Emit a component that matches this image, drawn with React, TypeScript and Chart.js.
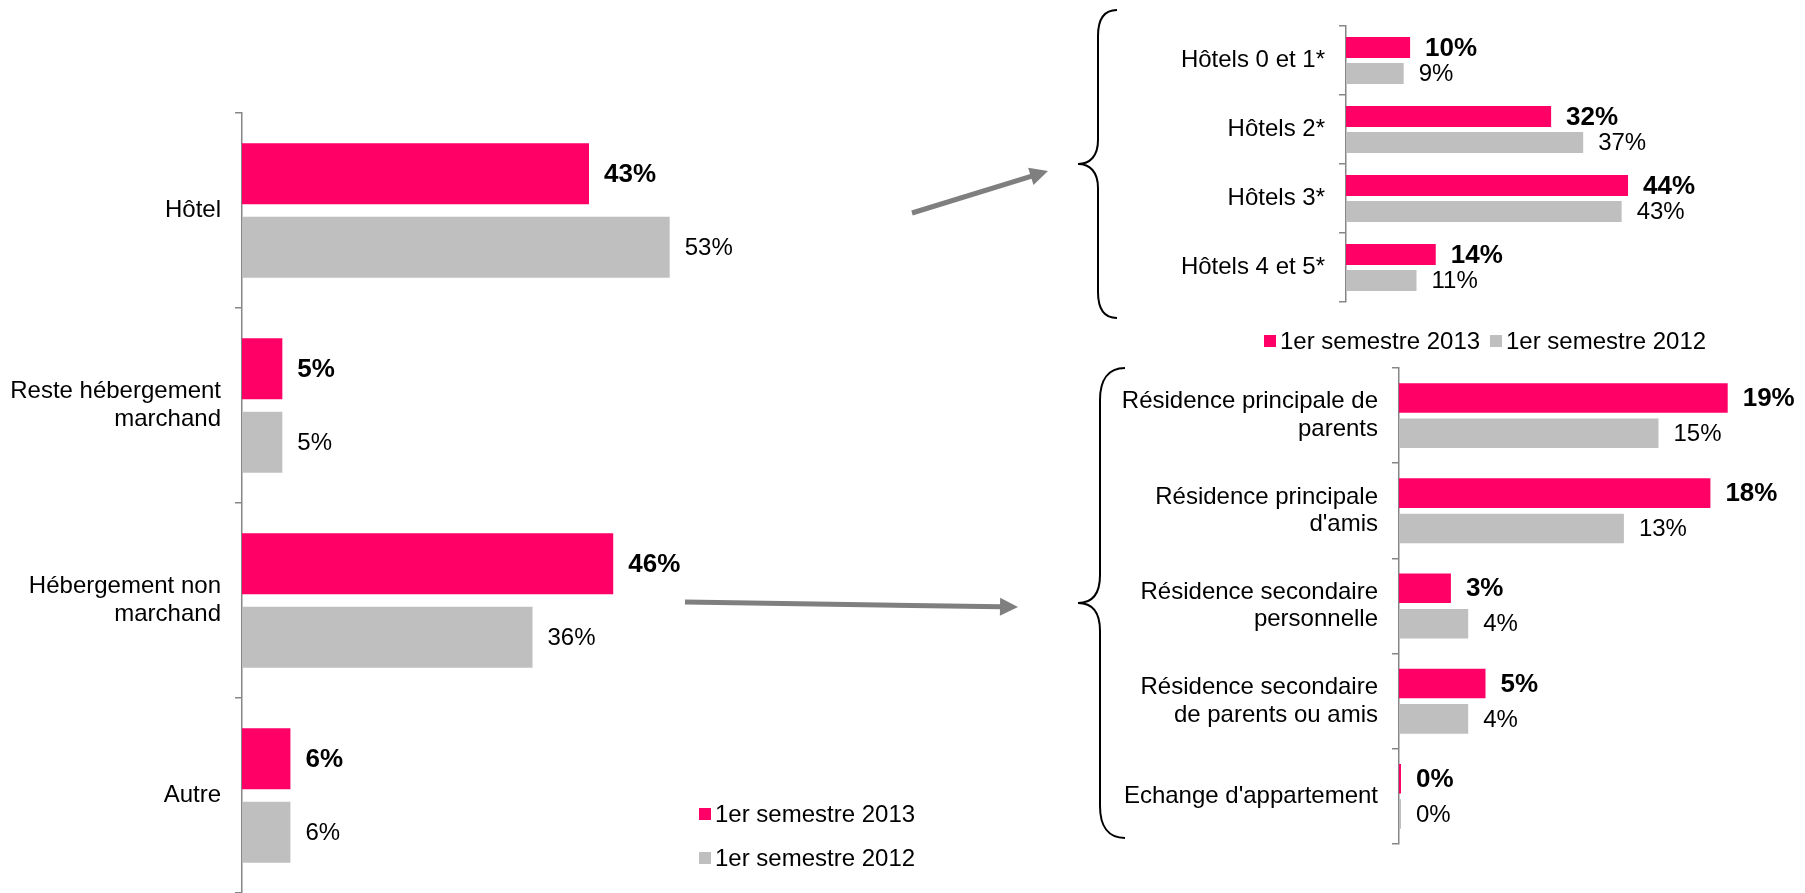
import React, { useEffect, useRef } from "react";
import { Chart, registerables } from "chart.js";

Chart.register(...registerables);

// ---------- DATA ----------
const seriesLabels = ["1er semestre 2013", "1er semestre 2012"];

const mainCategories: (string | string[])[] = [
  "Hôtel",
  ["Reste hébergement", "marchand"],
  ["Hébergement non", "marchand"],
  "Autre",
];
const main2013 = [43, 5, 46, 6];
const main2012 = [53, 5, 36, 6];

const hotelCategories = ["Hôtels 0 et 1*", "Hôtels 2*", "Hôtels 3*", "Hôtels 4 et 5*"];
const hotel2013 = [10, 32, 44, 14];
const hotel2012 = [9, 37, 43, 11];

const nonMarchandCategories: (string | string[])[] = [
  ["Résidence principale de", "parents"],
  ["Résidence principale", "d'amis"],
  ["Résidence secondaire", "personnelle"],
  ["Résidence secondaire", "de parents ou amis"],
  "Echange d'appartement",
];
const nonMarchand2013 = [19, 18, 3, 5, 0];
const nonMarchand2012 = [15, 13, 4, 4, 0];

// ---------- STYLE ----------
const PINK = "#FF0066";
const GRAY = "#BFBFBF";
const AXIS = "#868686";
const FONT = "'Liberation Sans', Arial, Helvetica, sans-serif";

Chart.defaults.font.family = FONT;
Chart.defaults.color = "#000";

const valueLabels = {
  id: "valueLabels",
  afterDatasetsDraw(chart: any) {
    const ctx = chart.ctx;
    const opts = chart.options.plugins.valueLabels || {};
    chart.data.datasets.forEach((ds: any, di: number) => {
      const meta = chart.getDatasetMeta(di);
      meta.data.forEach((el: any, i: number) => {
        const v = ds.data[i];
        ctx.save();
        ctx.font = di === 0 ? `bold ${opts.boldSize || 26}px ${FONT}` : `${opts.size || 24}px ${FONT}`;
        ctx.fillStyle = "#000";
        ctx.textAlign = "left";
        ctx.textBaseline = "middle";
        ctx.fillText(`${v}%`, el.x + (opts.offset || 15), el.y + 1);
        ctx.restore();
      });
    });
  },
};

const manualLegend = {
  id: "manualLegend",
  afterDraw(chart: any) {
    const opts = chart.options.plugins.manualLegend;
    if (!opts || !opts.items) return;
    const ctx = chart.ctx;
    chart.data.datasets.forEach((ds: any, di: number) => {
      const p = opts.items[di];
      if (!p) return;
      ctx.save();
      ctx.fillStyle = ds.backgroundColor;
      ctx.fillRect(p.x, p.y - 6, 12, 12);
      ctx.fillStyle = "#000";
      ctx.font = `24px ${FONT}`;
      ctx.textAlign = "left";
      ctx.textBaseline = "middle";
      ctx.fillText(ds.label, p.x + 16, p.y + 1);
      ctx.restore();
    });
  },
};

type Cfg = {
  labels: (string | string[])[];
  d2013: number[];
  d2012: number[];
  width: number;
  height: number;
  axisWidth: number;
  pxPerUnit: number;
  max: number;
  padTop: number;
  padBottom: number;
  barPct: number;
  catPct: number;
  legend?: { x: number; y: number }[];
  minBar?: number;
};

function makeConfig(c: Cfg): any {
  const areaW = c.max * c.pxPerUnit;
  const padRight = c.width - c.axisWidth - areaW;
  return {
    type: "bar",
    data: {
      labels: c.labels,
      datasets: [
        {
          label: seriesLabels[0],
          data: c.d2013,
          backgroundColor: PINK,
          barPercentage: c.barPct,
          categoryPercentage: c.catPct,
          minBarLength: c.minBar || 0,
        },
        {
          label: seriesLabels[1],
          data: c.d2012,
          backgroundColor: GRAY,
          barPercentage: c.barPct,
          categoryPercentage: c.catPct,
          minBarLength: c.minBar || 0,
        },
      ],
    },
    options: {
      indexAxis: "y",
      responsive: false,
      animation: false,
      devicePixelRatio: 1,
      events: [],
      layout: { padding: { top: c.padTop, bottom: c.padBottom, left: 0, right: padRight } },
      plugins: {
        legend: { display: false },
        tooltip: { enabled: false },
        title: { display: false },
        valueLabels: {},
        manualLegend: c.legend ? { items: c.legend } : undefined,
      },
      scales: {
        x: { display: false, min: 0, max: c.max },
        y: {
          afterFit: (s: any) => {
            s.width = c.axisWidth;
            s.paddingTop = 0;
            s.paddingBottom = 0;
          },
          grid: {
            display: true,
            drawOnChartArea: false,
            drawTicks: true,
            tickLength: 7,
            color: AXIS,
            lineWidth: 1.5,
            offset: true,
          },
          border: { display: true, color: AXIS, width: 1.5 },
          ticks: {
            color: "#000",
            padding: 14,
            font: { size: 24, family: FONT, lineHeight: 1.15 },
          },
        },
      },
    },
    plugins: [valueLabels, manualLegend],
  };
}

function BarChart({ cfg, left, top }: { cfg: Cfg; left: number; top: number }) {
  const ref = useRef<HTMLCanvasElement>(null);
  useEffect(() => {
    if (!ref.current) return;
    const chart = new Chart(ref.current, makeConfig(cfg));
    return () => chart.destroy();
  }, []);
  return (
    <canvas
      ref={ref}
      width={cfg.width}
      height={cfg.height}
      style={{ position: "absolute", left, top, width: cfg.width, height: cfg.height }}
    />
  );
}

function arrowPath(x1: number, y1: number, x2: number, y2: number, head = 18, half = 9) {
  const dx = x2 - x1, dy = y2 - y1;
  const len = Math.hypot(dx, dy);
  const ux = dx / len, uy = dy / len;
  const nx = -uy, ny = ux;
  const bx = x2 - ux * head, by = y2 - uy * head;
  return {
    line: { x1, y1, x2: bx + ux * 1, y2: by + uy * 1 },
    tri: `${x2},${y2} ${bx + nx * half},${by + ny * half} ${bx - nx * half},${by - ny * half}`,
  };
}

export default function App() {
  const a1 = arrowPath(912, 213, 1048, 171);
  const a2 = arrowPath(685, 602, 1018, 607);
  const leftCfg: Cfg = {
    labels: mainCategories,
    d2013: main2013,
    d2012: main2012,
    width: 940,
    height: 893,
    axisWidth: 242,
    pxPerUnit: 8.07,
    max: 70,
    padTop: 113,
    padBottom: 0,
    barPct: 0.828,
    catPct: 0.756,
    legend: [
      { x: 699, y: 814 },
      { x: 699, y: 858 },
    ],
  };
  const hotelCfg: Cfg = {
    labels: hotelCategories,
    d2013: hotel2013,
    d2012: hotel2012,
    width: 675,
    height: 360,
    axisWidth: 216,
    pxPerUnit: 6.41,
    max: 60,
    padTop: 26,
    padBottom: 58,
    barPct: 0.808,
    catPct: 0.754,
    legend: [
      { x: 134, y: 341 },
      { x: 360, y: 341 },
    ],
  };
  const nmCfg: Cfg = {
    labels: nonMarchandCategories,
    d2013: nonMarchand2013,
    d2012: nonMarchand2012,
    width: 715,
    height: 543,
    axisWidth: 309,
    pxPerUnit: 17.3,
    max: 22,
    padTop: 18,
    padBottom: 49,
    barPct: 0.835,
    catPct: 0.743,
    minBar: 2,
  };
  return (
    <div style={{ position: "fixed", left: 0, top: 0, width: 1805, height: 893, background: "#fff", overflow: "hidden" }}>
      <BarChart cfg={leftCfg} left={0} top={0} />
      <BarChart cfg={hotelCfg} left={1130} top={0} />
      <BarChart cfg={nmCfg} left={1090} top={350} />
      <svg
        width={1805}
        height={893}
        style={{ position: "absolute", left: 0, top: 0, pointerEvents: "none" }}
      >
        <line {...a1.line} stroke="#7F7F7F" strokeWidth={5} />
        <polygon points={a1.tri} fill="#7F7F7F" />
        <line {...a2.line} stroke="#7F7F7F" strokeWidth={5} />
        <polygon points={a2.tri} fill="#7F7F7F" />
        <path
          d="M1117,10 C1104,10 1098,20 1098,36 L1098,140 C1098,156 1090,164 1078,164 C1090,164 1098,172 1098,188 L1098,292 C1098,308 1104,318 1117,318"
          fill="none"
          stroke="#000"
          strokeWidth={2}
        />
        <path
          d="M1125,368 C1108,368 1100,380 1100,400 L1100,575 C1100,594 1092,603 1078,603 C1092,603 1100,612 1100,631 L1100,806 C1100,826 1108,838 1125,838"
          fill="none"
          stroke="#000"
          strokeWidth={2}
        />
      </svg>
    </div>
  );
}
